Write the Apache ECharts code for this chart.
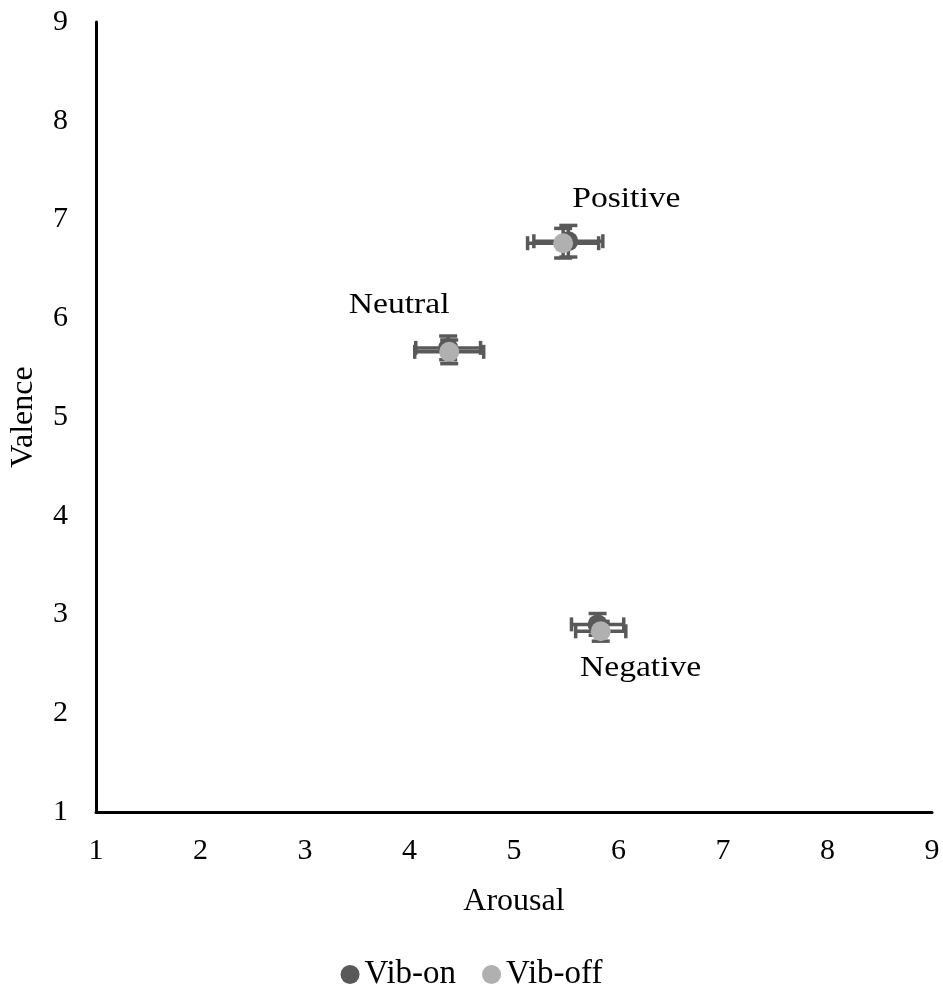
<!DOCTYPE html>
<html>
<head>
<meta charset="utf-8">
<style>
  html, body { margin: 0; padding: 0; background: #ffffff; }
  #chart { width: 943px; height: 996px; }
</style>
<script src="https://cdn.jsdelivr.net/npm/echarts@6/dist/echarts.min.js"></script>
</head>
<body>
<div id="chart"></div>
<script>
// Emotion categories (one point per category per condition)
const categories = ['Positive', 'Neutral', 'Negative'];

// Vib-on condition: mean arousal / valence with error margins
const vibOnArousal = [5.52, 4.37, 5.80];
const vibOnValence = [6.78, 5.70, 2.90];
const vibOnArousalErr = [0.33, 0.31, 0.25];
const vibOnValenceErr = [0.16, 0.12, 0.11];

// Vib-off condition
const vibOffArousal = [5.47, 4.38, 5.83];
const vibOffValence = [6.76, 5.66, 2.83];
const vibOffArousalErr = [0.34, 0.33, 0.24];
const vibOffValenceErr = [0.15, 0.12, 0.10];

// Axis ticks
const tickValues = [1, 2, 3, 4, 5, 6, 7, 8, 9];

const FONT = '"Liberation Serif", "Times New Roman", serif';
const DARK = '#595959';
const LIGHT = '#b0b0b0';
const BAR = '#595959';

function rows(xs, ys, xe, ye) {
  return xs.map((x, i) => [x, ys[i], xe[i], ye[i]]);
}

// Draws horizontal + vertical error bars with end caps
function errorBars(params, api) {
  const x = api.value(0), y = api.value(1);
  const ex = api.value(2), ey = api.value(3);
  const c = api.coord([x, y]);
  const l = api.coord([x - ex, y]);
  const r = api.coord([x + ex, y]);
  const t = api.coord([x, y + ey]);
  const b = api.coord([x, y - ey]);
  const hc = 7, vc = 9;
  const style = { stroke: BAR, lineWidth: 3.5, fill: null };
  const seg = (x1, y1, x2, y2) => ({ type: 'line', shape: { x1, y1, x2, y2 }, style });
  return {
    type: 'group',
    children: [
      seg(l[0], c[1], r[0], c[1]),
      seg(l[0], c[1] - hc, l[0], c[1] + hc),
      seg(r[0], c[1] - hc, r[0], c[1] + hc),
      seg(c[0], t[1], c[0], b[1]),
      seg(c[0] - vc, t[1], c[0] + vc, t[1]),
      seg(c[0] - vc, b[1], c[0] + vc, b[1])
    ]
  };
}

// Category name placement relative to the Vib-on point
const labelOffsets = { Positive: [58, -42], Neutral: [-49, -43], Negative: [43, 44] };

function categoryLabel(params, api) {
  const name = categories[params.dataIndex];
  const p = api.coord([api.value(0), api.value(1)]);
  const o = labelOffsets[name];
  return {
    type: 'text',
    x: p[0] + o[0],
    y: p[1] + o[1],
    scaleX: 1.12,
    style: {
      text: name,
      font: '30px ' + FONT,
      fill: '#000',
      align: 'center',
      verticalAlign: 'middle'
    }
  };
}

const chart = echarts.init(document.getElementById('chart'), null, { renderer: 'canvas' });

const axisCommon = {
  type: 'value',
  min: tickValues[0],
  max: tickValues[tickValues.length - 1],
  interval: 1,
  axisLine: { show: true, onZero: false, lineStyle: { color: '#000', width: 3 } },
  axisTick: { show: false },
  splitLine: { show: false },
  nameLocation: 'middle',
  nameTextStyle: { fontFamily: FONT, fontSize: 32, color: '#000' },
  axisLabel: { fontFamily: FONT, fontSize: 30, color: '#000' }
};

chart.setOption({
  animation: false,
  backgroundColor: '#ffffff',
  grid: { left: 95, right: 11, top: 22, bottom: 184, containLabel: false },
  xAxis: Object.assign({}, axisCommon, {
    name: 'Arousal',
    nameGap: 74,
    axisLabel: Object.assign({}, axisCommon.axisLabel, { margin: 24 })
  }),
  yAxis: Object.assign({}, axisCommon, {
    name: 'Valence',
    nameGap: 56,
    axisLabel: Object.assign({}, axisCommon.axisLabel, { margin: 28 })
  }),
  legend: {
    bottom: 0,
    left: 'center',
    itemWidth: 19,
    itemHeight: 19,
    itemGap: 26,
    icon: 'circle',
    textStyle: { fontFamily: FONT, fontSize: 33, color: '#000' },
    data: ['Vib-on', 'Vib-off']
  },
  series: [
    {
      type: 'custom',
      name: 'Vib-on bars',
      renderItem: errorBars,
      data: rows(vibOnArousal, vibOnValence, vibOnArousalErr, vibOnValenceErr),
      z: 2
    },
    {
      type: 'custom',
      name: 'Vib-off bars',
      renderItem: errorBars,
      data: rows(vibOffArousal, vibOffValence, vibOffArousalErr, vibOffValenceErr),
      z: 2
    },
    {
      type: 'scatter',
      name: 'Vib-on',
      symbolSize: 20,
      itemStyle: { color: DARK, opacity: 1 },
      data: vibOnArousal.map((x, i) => [x, vibOnValence[i]]),
      z: 3
    },
    {
      type: 'scatter',
      name: 'Vib-off',
      symbolSize: 20,
      itemStyle: { color: LIGHT, opacity: 1 },
      data: vibOffArousal.map((x, i) => [x, vibOffValence[i]]),
      z: 4
    },
    {
      type: 'custom',
      name: 'Category labels',
      renderItem: categoryLabel,
      data: vibOnArousal.map((x, i) => [x, vibOnValence[i]]),
      z: 5,
      silent: true
    }
  ]
});
</script>
</body>
</html>
